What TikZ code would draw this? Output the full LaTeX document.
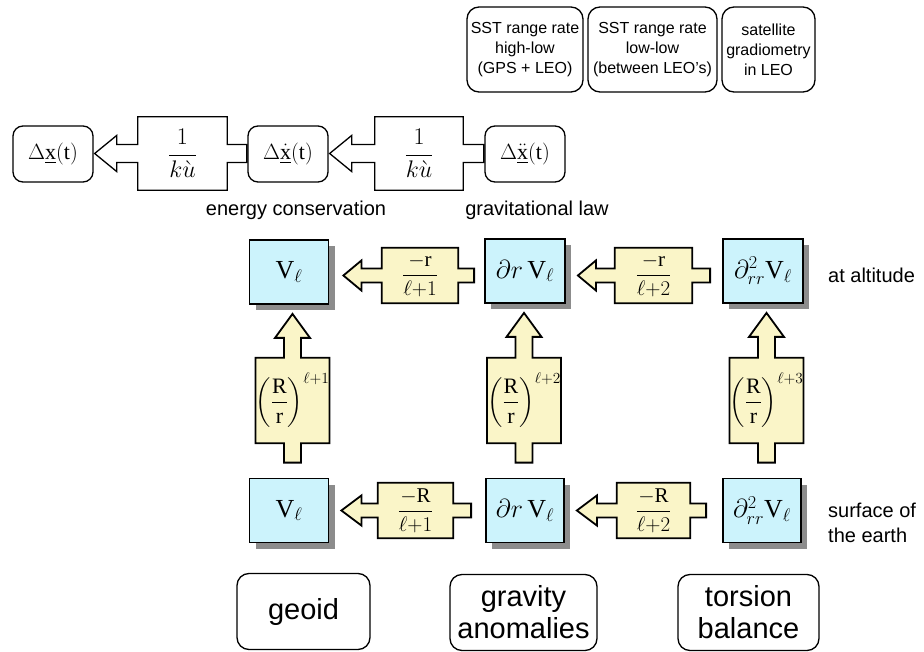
\RequirePackage{fix-cm}
\documentclass[tikz,border=0pt]{standalone}
\usepackage{amsmath}
\usepackage{fontspec}
\setmainfont{Liberation Sans}
\setmathrm{Liberation Serif}
\usetikzlibrary{calc}
\pgfdeclarelayer{bg}
\pgfsetlayers{bg,main}
\definecolor{boxblue}{HTML}{CCF3FC}
\definecolor{arrowyellow}{HTML}{FAF5C8}
\definecolor{shadowgray}{HTML}{8C8C8C}
\tikzset{
 toptxt/.style={draw, rounded corners=12pt, line width=1.3pt, align=center, inner sep=0pt, minimum height=85pt, font=\fontsize{16}{20}\selectfont},
 rowbox/.style={draw, rounded corners=10pt, line width=1.3pt, inner sep=0pt, minimum width=80pt, minimum height=56pt, font=\fontsize{22}{26}\selectfont},
 fracbox/.style={inner sep=0pt},
 whitearrow/.style={draw, line width=1.3pt, fill=white},
 yelarrow/.style={draw, line width=1.8pt, fill=arrowyellow},
 shadownode/.style={fill=shadowgray, inner sep=0pt, minimum width=79pt, minimum height=64pt},
 bluebox/.style={draw, line width=1.8pt, fill=boxblue, inner sep=0pt, minimum width=79pt, minimum height=64pt, font=\fontsize{26}{30}\selectfont},
 sidelabel/.style={anchor=west, font=\fontsize{20}{25}\selectfont, align=left, inner sep=0pt},
 lawlabel/.style={font=\fontsize{20}{24}\selectfont, inner sep=0pt},
 bottombox/.style={draw, rounded corners=12pt, line width=1.3pt, align=center, inner sep=0pt, minimum height=76pt, font=\fontsize{29}{32}\selectfont},
}
% horizontal block arrow: style, target, fraction node, source, tipgap, stubgap, headlength, barb half, shaft half
\newcommand{\harrow}[9]{%
 \draw[#1] let \p1=(#2.east), \p2=(#3.north west), \p3=(#3.south east), \p4=(#4.west), \p5=(#3.center) in
 (\x4-#6,\y5+#9) -- (\x3,\y5+#9) -- (\x3,\y2) -- (\x2,\y2) -- (\x2,\y5+#9) -- (\x1+#5+#7,\y5+#9) -- (\x1+#5+#7,\y5+#8) -- (\x1+#5,\y5) -- (\x1+#5+#7,\y5-#8) -- (\x1+#5+#7,\y5-#9) -- (\x2,\y5-#9) -- (\x2,\y3) -- (\x3,\y3) -- (\x3,\y5-#9) -- (\x4-#6,\y5-#9) -- cycle;}
% vertical block arrow pointing up
\newcommand{\varrow}[9]{%
 \draw[#1] let \p1=(#2.south), \p2=(#3.north west), \p3=(#3.south east), \p4=(#4.north), \p5=(#3.center) in
 (\x5-#9,\y4+#6) -- (\x5-#9,\y3) -- (\x2,\y3) -- (\x2,\y2) -- (\x5-#9,\y2) -- (\x5-#9,\y1-#5-#7) -- (\x5-#8,\y1-#5-#7) -- (\x5,\y1-#5) -- (\x5+#8,\y1-#5-#7) -- (\x5+#9,\y1-#5-#7) -- (\x5+#9,\y2) -- (\x3,\y2) -- (\x3,\y3) -- (\x5+#9,\y3) -- (\x5+#9,\y4+#6) -- cycle;}
\begin{document}
\begin{tikzpicture}[x=1pt,y=-1pt]
\useasboundingbox (0,0) rectangle (924,652);
% top measurement boxes
\node[toptxt, minimum width=116pt] (sst1) at (525,49.5) {SST range rate\\high-low\\(GPS + LEO)};
\node[toptxt, minimum width=129pt] (sst2) at (652.5,49.5) {SST range rate\\low-low\\(between LEO's)};
\node[toptxt, minimum width=93pt] (grad) at (768.5,49.5) {satellite\\gradiometry\\in LEO};
% orbit row
\node[rowbox] (dx) at (53,154) {$\Delta\underline{\mathrm{x}}(\mathrm{t})$};
\node[fracbox, minimum width=89pt, minimum height=73pt, font=\fontsize{24}{28}\selectfont] (int1) at (182.5,153.5) {$\dfrac{1}{k\grave{u}}$};
\node[rowbox] (dxd) at (288,154) {$\Delta\underline{\dot{\mathrm{x}}}(\mathrm{t})$};
\node[fracbox, minimum width=88pt, minimum height=73pt, font=\fontsize{24}{28}\selectfont] (int2) at (419,153.5) {$\dfrac{1}{k\grave{u}}$};
\node[rowbox] (dxdd) at (525,154) {$\Delta\underline{\ddot{\mathrm{x}}}(\mathrm{t})$};
\node[lawlabel] (econ) at (296,210) {energy conservation};
\node[lawlabel] (glaw) at (537,210) {gravitational law};
% shadows of the potential boxes
\node[shadownode] (s1) at (295,278) {};
\node[shadownode, minimum width=80pt] (s2) at (531,277) {};
\node[shadownode, minimum width=80pt] (s3) at (769,277) {};
\node[shadownode] (s4) at (295,516.5) {};
\node[shadownode, minimum width=78pt] (s5) at (531,516.5) {};
\node[shadownode, minimum width=78pt] (s6) at (768,516.5) {};
% altitude row
\node[bluebox] (v1) at (289,272) {$\mathrm{V}_\ell$};
\node[bluebox, minimum width=80pt] (dr1) at (525,271) {$\partial r\,\mathrm{V}_\ell$};
\node[bluebox, minimum width=80pt] (drr1) at (763,271) {$\partial^2_{rr}\mathrm{V}_\ell$};
\node[fracbox, minimum width=76pt, minimum height=55pt, font=\fontsize{21}{25}\selectfont] (a1) at (420,275.5) {$\dfrac{-\mathrm{r}}{\ell{+}1}$};
\node[fracbox, minimum width=77pt, minimum height=55pt, font=\fontsize{21}{25}\selectfont] (a2) at (653.5,275.5) {$\dfrac{-\mathrm{r}}{\ell{+}2}$};
\node[sidelabel] (alt) at (828,275) {at altitude};
% surface row
\node[bluebox] (v2) at (289,510.5) {$\mathrm{V}_\ell$};
\node[bluebox, minimum width=78pt] (dr2) at (525,510.5) {$\partial r\,\mathrm{V}_\ell$};
\node[bluebox, minimum width=78pt] (drr2) at (762,510.5) {$\partial^2_{rr}\mathrm{V}_\ell$};
\node[fracbox, minimum width=75pt, minimum height=55pt, font=\fontsize{21}{25}\selectfont] (b1) at (415.5,510.5) {$\dfrac{-\mathrm{R}}{\ell{+}1}$};
\node[fracbox, minimum width=73pt, minimum height=55pt, font=\fontsize{21}{25}\selectfont] (b2) at (653.5,510.5) {$\dfrac{-\mathrm{R}}{\ell{+}2}$};
\node[sidelabel] (surf) at (828,522.5) {surface of\\the earth};
% upward continuation
\node[fracbox, minimum width=69pt, minimum height=85pt, font=\fontsize{22}{26}\selectfont] (p1) at (292.5,400.5) {$\left(\dfrac{\mathrm{R}}{\mathrm{r}}\right)^{\ell{+}1}$};
\node[fracbox, minimum width=68pt, minimum height=85pt, font=\fontsize{22}{26}\selectfont] (p2) at (524,400.5) {$\left(\dfrac{\mathrm{R}}{\mathrm{r}}\right)^{\ell{+}2}$};
\node[fracbox, minimum width=67pt, minimum height=85pt, font=\fontsize{22}{26}\selectfont] (p3) at (766.5,400.5) {$\left(\dfrac{\mathrm{R}}{\mathrm{r}}\right)^{\ell{+}3}$};
% terrestrial observables
\node[bottombox, minimum width=133pt] (geoid) at (303.5,611.5) {geoid};
\node[bottombox, minimum width=147pt] (grav) at (523.5,612.5) {gravity\\anomalies};
\node[bottombox, minimum width=141pt] (tors) at (748.5,612.5) {torsion\\balance};
\begin{pgfonlayer}{bg}
\harrow{whitearrow}{dx}{int1}{dxd}{1pt}{0.5pt}{22pt}{18pt}{9pt}
\harrow{whitearrow}{dxd}{int2}{dxdd}{1pt}{0.5pt}{22pt}{18pt}{9pt}
\harrow{yelarrow}{v1}{a1}{dr1}{14pt}{10pt}{18pt}{15pt}{7pt}
\harrow{yelarrow}{dr1}{a2}{drr1}{12pt}{12pt}{18pt}{15pt}{7pt}
\harrow{yelarrow}{v2}{b1}{dr2}{12pt}{14pt}{20pt}{15pt}{7pt}
\harrow{yelarrow}{dr2}{b2}{drr2}{12pt}{16pt}{20pt}{15pt}{7pt}
\varrow{yelarrow}{v1}{p1}{v2}{9pt}{15pt}{24pt}{17.5pt}{8.5pt}
\varrow{yelarrow}{dr1}{p2}{dr2}{9pt}{15pt}{24pt}{17.5pt}{8.5pt}
\varrow{yelarrow}{drr1}{p3}{drr2}{9pt}{15pt}{24pt}{17.5pt}{8.5pt}
\end{pgfonlayer}
\end{tikzpicture}
\end{document}
